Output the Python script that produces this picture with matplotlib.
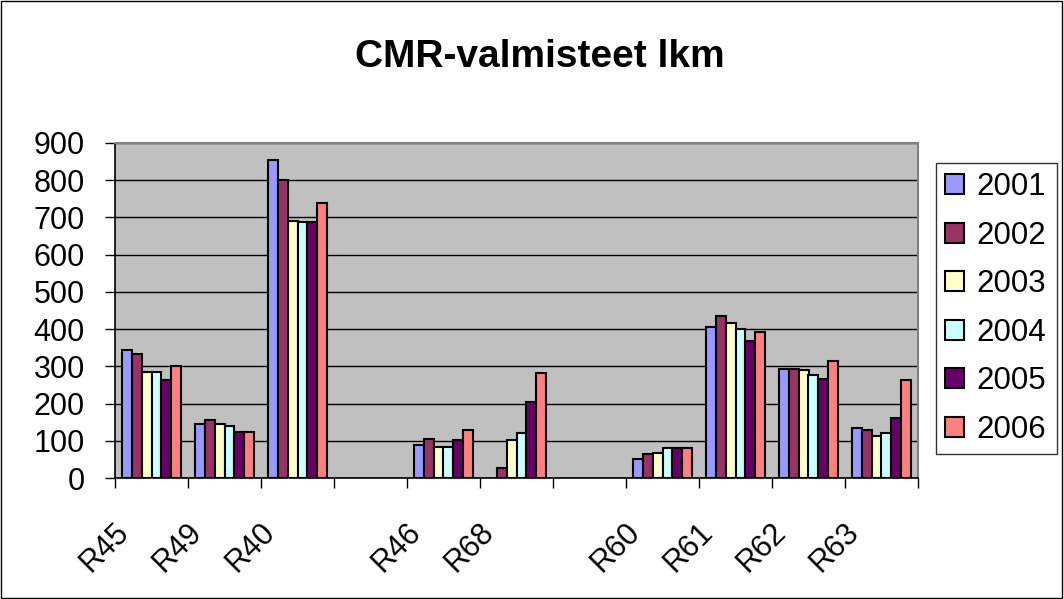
import matplotlib
matplotlib.use("Agg")
import matplotlib.pyplot as plt
import matplotlib.transforms as mtransforms
import numpy as np
from matplotlib.patches import Rectangle

plt.rcParams['font.family'] = ['Liberation Sans', 'DejaVu Sans']

nan = np.nan
categories = ["R45", "R49", "R40", "", "R46", "R68", "", "R60", "R61", "R62", "R63"]
years = ["2001", "2002", "2003", "2004", "2005", "2006"]
v2001 = [343, 145, 854, nan, 90, nan, nan, 52, 407, 293, 134]
v2002 = [333, 155, 800, nan, 106, 28, nan, 64, 434, 293, 128]
v2003 = [285, 145, 691, nan, 84, 101, nan, 68, 417, 289, 112]
v2004 = [285, 140, 688, nan, 84, 122, nan, 80, 401, 278, 122]
v2005 = [264, 123, 688, nan, 101, 203, nan, 80, 369, 267, 161]
v2006 = [300, 123, 740, nan, 129, 283, nan, 80, 391, 315, 262]
series = [v2001, v2002, v2003, v2004, v2005, v2006]
colors = ["#9999FF", "#993366", "#FFFFCC", "#CCFFFF", "#660066", "#FF8080"]

FS = 22

fig = plt.figure(figsize=(10.64, 5.99), dpi=100)
fig.patch.set_facecolor("white")
fig.patches.append(Rectangle((0.001, 0.001), 0.997, 0.997, transform=fig.transFigure,
                             fill=False, edgecolor="black", linewidth=1.0))

ax = fig.add_axes([115/1064, 1-478/599, (918-115)/1064, (478-143)/599])
ax.set_facecolor("#C0C0C0")

n = len(categories)
x = np.arange(n)
bw = 0.133
for i, (vals, c, y) in enumerate(zip(series, colors, years)):
    xs = x - 3*bw + bw/2 + i*bw
    ax.bar(xs, vals, width=bw, color=c, edgecolor="black", linewidth=1.5, label=y, zorder=3)

ax.set_xlim(-0.5, n-0.5)
ax.set_ylim(0, 900)
ax.set_yticks(range(0, 901, 100))
ax.yaxis.grid(True, color="black", linewidth=1.0, zorder=1)
ax.set_axisbelow(True)

ax.set_xticks(np.arange(-0.5, n, 1.0))
ax.set_xticklabels([])
ax.tick_params(axis="x", which="major", length=7, width=1, direction="out")
ax.tick_params(axis="y", length=7.2, width=1, direction="out", labelsize=FS, pad=14.4)

lab_tr = mtransforms.offset_copy(ax.get_xaxis_transform(), fig=fig, x=-27, y=-50, units="dots")
for xi, lab in zip(x, categories):
    if lab:
        ax.text(xi, 0, lab, transform=lab_tr, rotation=45, ha="right", va="center",
                rotation_mode="anchor", fontsize=FS)

for s in ["top", "right"]:
    ax.spines[s].set_color("#808080")
    ax.spines[s].set_linewidth(1.5)
for s in ["left", "bottom"]:
    ax.spines[s].set_color("black")
    ax.spines[s].set_linewidth(1.2)

fig.text(540/1064, 1-67/599, "CMR-valmisteet lkm", ha="center", va="baseline",
         fontsize=28, fontweight="bold")

leg = ax.legend(loc="center left", bbox_to_anchor=(936/1064, 1-453/599, (1057-936)/1064, (453-164)/599),
                bbox_transform=fig.transFigure, mode="expand", frameon=True, fancybox=False,
                edgecolor="black", fontsize=22.5, handlelength=0.6, handleheight=0.6,
                handletextpad=0.38, labelspacing=0.595, borderpad=0.3, borderaxespad=0)
leg.get_frame().set_linewidth(1.0)

fig.savefig("out.png", dpi=100)
